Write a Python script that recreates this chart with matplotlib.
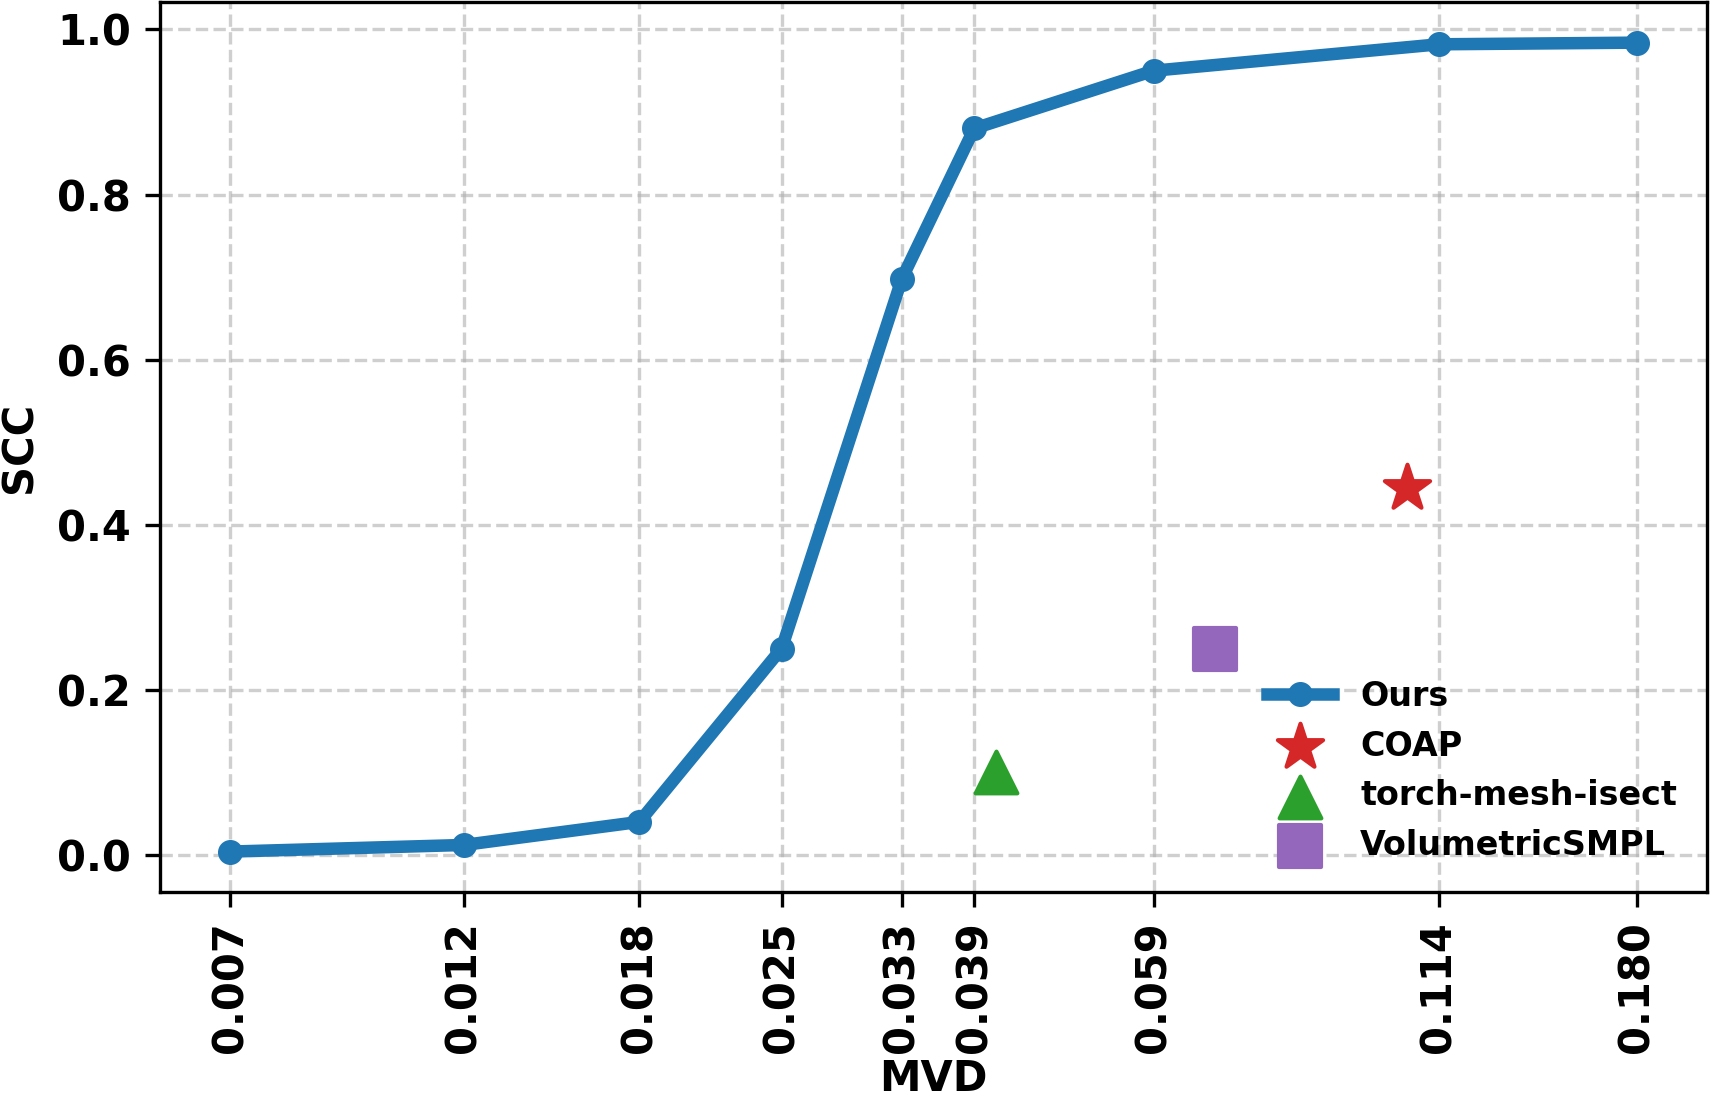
import matplotlib
matplotlib.use("Agg")
import matplotlib.pyplot as plt
from matplotlib.ticker import FixedLocator, FixedFormatter, NullLocator

mvd = [0.007, 0.012, 0.018, 0.025, 0.033, 0.039, 0.059, 0.114, 0.180]
mvd_labels = ["0.007", "0.012", "0.018", "0.025", "0.033", "0.039", "0.059", "0.114", "0.180"]
scc_ours = [0.004, 0.012, 0.040, 0.250, 0.698, 0.880, 0.950, 0.982, 0.984]

coap_x, coap_y = [0.106], [0.445]
tmi_x, tmi_y = [0.041], [0.100]
vol_x, vol_y = [0.068], [0.250]

plt.rcParams['font.family'] = ['DejaVu Sans']
plt.rcParams['font.weight'] = 'bold'
plt.rcParams['font.size'] = 10

fig = plt.figure(figsize=(5.7, 3.67), dpi=300)
ax = fig.add_axes([0.0936, 0.1898, 0.9046, 0.8082])

ax.plot(mvd, scc_ours, '-o', color='#1f77b4', lw=3, markersize=5, label='Ours', zorder=3)
ax.scatter(coap_x, coap_y, marker='*', s=130, color='#d62728', label='COAP', zorder=3)
ax.scatter(tmi_x, tmi_y, marker='^', s=100, color='#2ca02c', label='torch-mesh-isect', zorder=3)
ax.scatter(vol_x, vol_y, marker='s', s=100, color='#9467bd', label='VolumetricSMPL', zorder=3)

ax.set_xscale('log')
ax.xaxis.set_major_locator(FixedLocator(mvd))
ax.xaxis.set_major_formatter(FixedFormatter(mvd_labels))
ax.xaxis.set_minor_locator(NullLocator())
plt.setp(ax.get_xticklabels(), rotation=90, fontweight='bold')
plt.setp(ax.get_yticklabels(), fontweight='bold')

ax.set_xlabel('MVD', fontweight='bold', labelpad=1.2)
ax.set_ylabel('SCC', fontweight='bold')
ax.grid(True, linestyle='--', color='#b0b0b0', alpha=0.6)

ax.legend(loc='lower right', frameon=False, fontsize=8)

fig.savefig('out.png', dpi=300)
